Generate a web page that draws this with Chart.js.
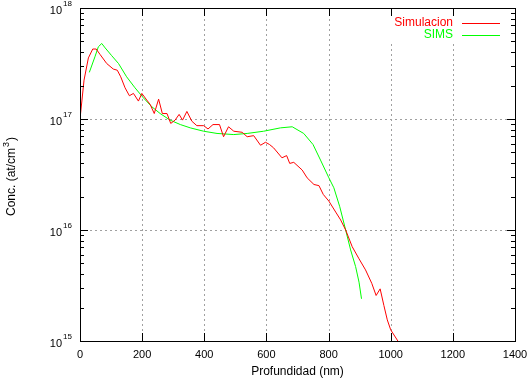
<!DOCTYPE html>
<html>
<head>
<meta charset="utf-8">
<script src="https://cdn.jsdelivr.net/npm/chart.js@4/dist/chart.umd.min.js"></script>
<style>
html,body{margin:0;padding:0;background:#fff;}
canvas{display:block;}
</style>
</head>
<body>
<canvas id="c" width="527" height="379"></canvas>
<script>
// ---- data ----
const depthSim = [0,13,27,41,52,65,86,107,120,131,145,159,172,188,199,215,226,239,253,265,280,292,306,319,330,344,360,376,398,412,428,449,462,478,495,522,538,559,581,597,610,623,650,665,675,688,715,731,753,769,783,801,823,839,855,876,898,919,939,953,966,978,989,1000,1023];
const concSim = [1.0e17,2.24e17,3.55e17,4.27e17,4.27e17,3.80e17,3.16e17,2.82e17,2.75e17,2.40e17,1.91e17,1.62e17,1.70e17,1.45e17,1.70e17,1.48e17,1.35e17,1.12e17,1.51e17,1.12e17,1.12e17,9.12e16,9.77e16,1.10e17,9.77e16,1.17e17,9.55e16,8.71e16,8.71e16,8.13e16,8.91e16,8.91e16,6.92e16,8.51e16,7.76e16,7.59e16,6.92e16,7.08e16,5.80e16,6.17e16,5.89e16,5.50e16,4.47e16,4.68e16,3.98e16,4.07e16,3.47e16,2.95e16,2.57e16,2.51e16,2.09e16,1.82e16,1.45e16,1.23e16,1.0e16,7.08e15,5.50e15,4.37e15,3.31e15,2.57e15,2.95e15,2.09e15,1.55e15,1.26e15,1.0e15];
const depthSims = [30,48,59,70,81,102,124,150,177,204,231,258,290,323,355,398,441,495,538,591,645,683,720,750,774,801,817,836,855,871,887,898,906];
const concSims = [2.63e17,3.63e17,4.47e17,4.79e17,4.37e17,3.72e17,3.16e17,2.40e17,1.91e17,1.55e17,1.29e17,1.12e17,9.77e16,8.91e16,8.32e16,7.76e16,7.41e16,7.24e16,7.41e16,7.76e16,8.32e16,8.51e16,7.41e16,5.89e16,4.27e16,2.95e16,2.40e16,1.62e16,1.0e16,6.61e15,4.68e15,3.39e15,2.40e15];
const seriesNames = ['Simulacion','SIMS'];
const seriesColors = ['#ff0000','#00ff00'];
const xTicks = [0,200,400,600,800,1000,1200,1400];
const yDecadeExps = [15,16,17,18];
const xTitle = 'Profundidad (nm)';
const yTitleParts = ['Conc. (at/cm', '3', ')'];

const FONT = '"Liberation Sans", Arial, Helvetica, sans-serif';

const gnuplotPlugin = {
  id: 'gnuplotLook',
  beforeDatasetsDraw(chart) {
    const ctx = chart.ctx, a = chart.chartArea;
    const xs = chart.scales.x, ys = chart.scales.y;
    ctx.save();
    ctx.strokeStyle = '#a0a0a0';
    ctx.lineWidth = 1;
    ctx.setLineDash([2, 3]);
    xTicks.forEach(v => {
      if (v === xTicks[0] || v === xTicks[xTicks.length - 1]) return;
      const px = Math.round(xs.getPixelForValue(v)) + 0.5;
      ctx.beginPath(); ctx.moveTo(px, a.bottom); ctx.lineTo(px, a.top); ctx.stroke();
    });
    yDecadeExps.forEach(e => {
      if (e === yDecadeExps[0] || e === yDecadeExps[yDecadeExps.length - 1]) return;
      const py = Math.round(ys.getPixelForValue(Math.pow(10, e))) + 0.5;
      ctx.beginPath(); ctx.moveTo(a.left, py); ctx.lineTo(a.right, py); ctx.stroke();
    });
    ctx.setLineDash([]);
    // opaque key box
    ctx.fillStyle = '#fff';
    ctx.fillRect(a.right - 126, a.top + 1, 125, 33);
    ctx.restore();
  },
  afterDraw(chart) {
    const ctx = chart.ctx, a = chart.chartArea;
    const xs = chart.scales.x, ys = chart.scales.y;
    ctx.save();
    ctx.setLineDash([]);
    ctx.strokeStyle = '#000';
    ctx.lineWidth = 1;
    // ticks x (inside, bottom and top)
    xTicks.forEach(v => {
      const px = Math.round(xs.getPixelForValue(v)) + 0.5;
      ctx.beginPath();
      ctx.moveTo(px, a.bottom); ctx.lineTo(px, a.bottom - 8);
      ctx.moveTo(px, a.top); ctx.lineTo(px, a.top + 8);
      ctx.stroke();
    });
    // ticks y major/minor (inside, left and right)
    for (let i = 0; i < yDecadeExps.length; i++) {
      const e = yDecadeExps[i];
      const py = Math.round(ys.getPixelForValue(Math.pow(10, e))) + 0.5;
      ctx.beginPath();
      ctx.moveTo(a.left, py); ctx.lineTo(a.left + 8, py);
      ctx.moveTo(a.right, py); ctx.lineTo(a.right - 8, py);
      ctx.stroke();
      if (i < yDecadeExps.length - 1) {
        for (let m = 2; m <= 9; m++) {
          const q = Math.round(ys.getPixelForValue(m * Math.pow(10, e))) + 0.5;
          ctx.beginPath();
          ctx.moveTo(a.left, q); ctx.lineTo(a.left + 4, q);
          ctx.moveTo(a.right, q); ctx.lineTo(a.right - 4, q);
          ctx.stroke();
        }
      }
    }
    // border
    ctx.strokeRect(a.left + 0.5, a.top + 0.5, a.right - a.left, a.bottom - a.top);

    ctx.fillStyle = '#000';
    // x tick labels
    ctx.font = '11px ' + FONT;
    ctx.textAlign = 'center';
    ctx.textBaseline = 'alphabetic';
    xTicks.forEach(v => {
      ctx.fillText(String(v), xs.getPixelForValue(v), a.bottom + 17);
    });
    // y tick labels 10^e
    yDecadeExps.forEach(e => {
      const py = ys.getPixelForValue(Math.pow(10, e));
      ctx.font = '8px ' + FONT;
      ctx.textAlign = 'right';
      const ew = ctx.measureText(String(e)).width;
      const right = a.left - 8;
      ctx.fillText(String(e), right, py - 2);
      ctx.font = '11px ' + FONT;
      ctx.fillText('10', right - ew - 1, py + 6);
    });
    // x title
    ctx.font = '12px ' + FONT;
    ctx.textAlign = 'center';
    ctx.fillText(xTitle, (a.left + a.right) / 2, a.bottom + 34);
    // y title with superscript
    ctx.save();
    ctx.translate(15, (a.top + a.bottom) / 2 + 2);
    ctx.rotate(-Math.PI / 2);
    ctx.textAlign = 'left';
    ctx.textBaseline = 'alphabetic';
    const f1 = '12px ' + FONT, f2 = '9px ' + FONT;
    ctx.font = f1; const w0 = ctx.measureText(yTitleParts[0]).width;
    ctx.font = f2; const w1 = ctx.measureText(yTitleParts[1]).width;
    ctx.font = f1; const w2 = ctx.measureText(yTitleParts[2]).width;
    let cx = -(w0 + w1 + w2 + 2) / 2;
    ctx.font = f1; ctx.fillText(yTitleParts[0], cx, 0); cx += w0 + 1;
    ctx.font = f2; ctx.fillText(yTitleParts[1], cx, -6); cx += w1 + 1;
    ctx.font = f1; ctx.fillText(yTitleParts[2], cx, 0);
    ctx.restore();
    // key
    chart.data.datasets.forEach((ds, i) => {
      const y = a.top + 15 + i * 12;
      ctx.font = '12px ' + FONT;
      ctx.textAlign = 'right';
      ctx.textBaseline = 'middle';
      ctx.fillStyle = seriesColors[i];
      ctx.fillText(ds.label, a.right - 62, y);
      ctx.strokeStyle = seriesColors[i];
      ctx.lineWidth = 1;
      ctx.beginPath();
      ctx.moveTo(a.right - 53, Math.round(y) + 0.5);
      ctx.lineTo(a.right - 15, Math.round(y) + 0.5);
      ctx.stroke();
    });
    ctx.restore();
  }
};

new Chart(document.getElementById('c'), {
  type: 'line',
  data: {
    datasets: [
      { label: seriesNames[0], data: depthSim.map((x, i) => ({ x, y: concSim[i] })),
        borderColor: seriesColors[0], borderWidth: 1, pointRadius: 0, tension: 0, fill: false },
      { label: seriesNames[1], data: depthSims.map((x, i) => ({ x, y: concSims[i] })),
        borderColor: seriesColors[1], borderWidth: 1, pointRadius: 0, tension: 0, fill: false }
    ]
  },
  options: {
    responsive: false,
    animation: false,
    devicePixelRatio: 1,
    layout: { padding: { left: 80, right: 12, top: 8, bottom: 38 } },
    plugins: { legend: { display: false }, tooltip: { enabled: false } },
    scales: {
      x: { type: 'linear', min: 0, max: 1400, display: false },
      y: { type: 'logarithmic', min: 1e15, max: 1e18, display: false }
    }
  },
  plugins: [gnuplotPlugin]
});
</script>
</body>
</html>
